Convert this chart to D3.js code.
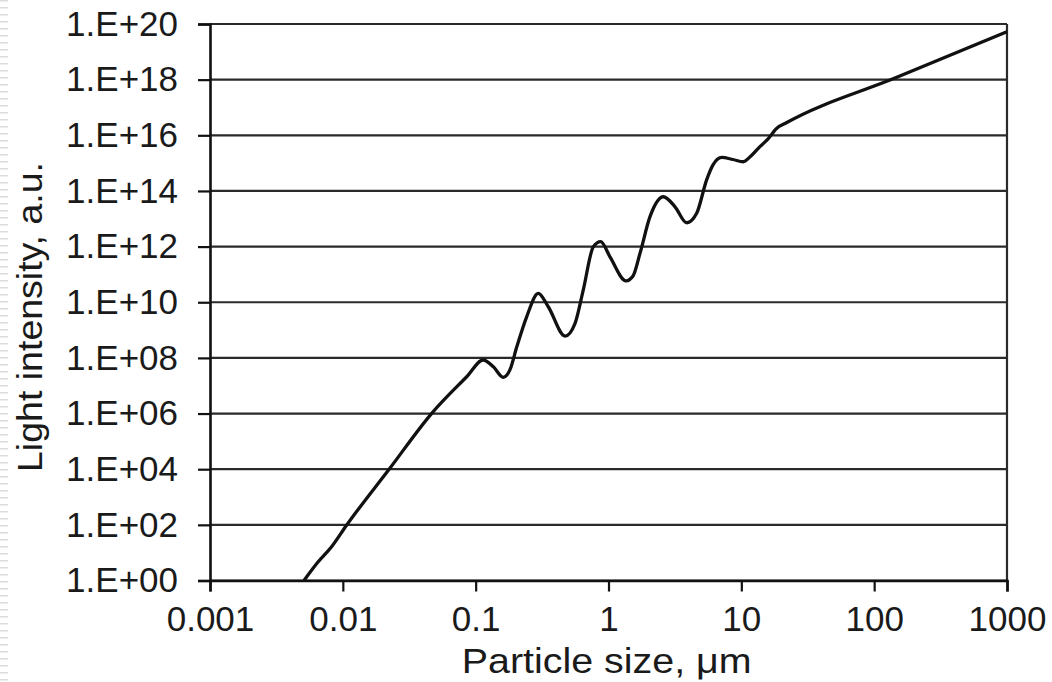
<!DOCTYPE html>
<html>
<head>
<meta charset="utf-8">
<script src="https://cdn.jsdelivr.net/npm/d3@7"></script>
<style>
	body { margin: 0; background: #fff; }
	text { font-family: "Liberation Sans", Arial, sans-serif; fill: #1a1a1a; }
</style>
</head>
<body>
<svg id="chart" width="1052" height="682"></svg>
<script>

//* particle size, um
var sizes = [
	0.0051, 0.0065, 0.0082, 0.0107, 0.0226, 0.0467, 0.0856, 0.114, 0.136, 0.161,
	0.181, 0.204, 0.242, 0.296, 0.352, 0.471, 0.56, 0.646, 0.769, 0.873,
	1.026, 1.355, 1.53, 1.726, 2.053, 2.586, 3.168, 3.88, 4.61, 5.48,
	6.12, 7.12, 8.65, 10.35, 11.6, 13.8, 15.9, 18.5, 21.3, 148, 1000
];

//* light intensity, a.u.
var intensity = [
	1, 4.6, 16, 99, 1.08e4, 1.02e6, 2.1e7, 8.4e7, 4.8e7, 2.0e7,
	3.7e7, 2.5e8, 3.0e9, 2.1e10, 6.9e9, 6.1e8, 1.75e9, 2.8e10, 9.9e11, 1.5e12,
	4.3e11, 5.9e10, 8.8e10, 5.7e11, 1.19e13, 6.2e13, 2.7e13, 7.2e12, 1.57e13, 2.5e14,
	8.6e14, 1.6e15, 1.35e15, 1.12e15, 1.66e15, 3.9e15, 7.4e15, 1.8e16, 2.65e16, 1.21e18, 5.3e19
];

var xTicks = [0.001, 0.01, 0.1, 1, 10, 100, 1000];
var xTickLabels = ["0.001", "0.01", "0.1", "1", "10", "100", "1000"];

var yTicks = [1e0, 1e2, 1e4, 1e6, 1e8, 1e10, 1e12, 1e14, 1e16, 1e18, 1e20];
var yTickLabels = ["1.E+00", "1.E+02", "1.E+04", "1.E+06", "1.E+08", "1.E+10",
	"1.E+12", "1.E+14", "1.E+16", "1.E+18", "1.E+20"];

var svg = d3.select('#chart');

var plotLeft = 210, plotRight = 1007, plotTop = 24, plotBottom = 580.5;

var x = d3.scaleLog().domain([0.001, 1000]).range([plotLeft, plotRight]);
var y = d3.scaleLog().domain([1, 1e20]).range([plotBottom, plotTop]);

// faint scan edge at the left border
svg.append('line')
	.attr('x1', 4).attr('x2', 4)
	.attr('y1', 0).attr('y2', 682)
	.attr('stroke', '#dcdcdc')
	.attr('stroke-width', 8)
	.attr('stroke-dasharray', '1.5,5.5');

//* grid lines
svg.append('g')
	.selectAll('line')
	.data(yTicks)
	.enter().append('line')
		.attr('x1', plotLeft)
		.attr('x2', plotRight)
		.attr('y1', function(d){ return y(d); })
		.attr('y2', function(d){ return y(d); })
		.attr('stroke', '#2a2a2a')
		.attr('stroke-width', 2.2);

//* right border
svg.append('line')
	.attr('x1', plotRight).attr('x2', plotRight)
	.attr('y1', plotTop).attr('y2', plotBottom)
	.attr('stroke', '#2a2a2a')
	.attr('stroke-width', 2.2);

//* y axis
var yAxis = svg.append('g')
	.attr('transform', 'translate(' + plotLeft + ',0)')
	.call(d3.axisLeft(y)
		.tickValues(yTicks)
		.tickSize(12)
		.tickPadding(20)
		.tickFormat(function(d, i){ return yTickLabels[i]; }));

//* x axis
var xAxis = svg.append('g')
	.attr('transform', 'translate(0,' + plotBottom + ')')
	.call(d3.axisBottom(x)
		.tickValues(xTicks)
		.tickSize(11)
		.tickPadding(15)
		.tickFormat(function(d, i){ return xTickLabels[i]; }));

[yAxis, xAxis].forEach(function(a){
	a.select('.domain').attr('stroke', '#111').attr('stroke-width', 2.6);
	a.selectAll('.tick line').attr('stroke', '#111').attr('stroke-width', 2.2);
	a.selectAll('.tick text')
		.attr('font-family', '"Liberation Sans", Arial, sans-serif')
		.attr('font-size', 35)
		.attr('fill', '#1a1a1a');
});

//* curve
var line = d3.line()
	.x(function(d){ return x(d[0]); })
	.y(function(d){ return y(d[1]); })
	.curve(d3.curveMonotoneX);

svg.append('path')
	.datum(d3.zip(sizes, intensity))
	.attr('d', line)
	.attr('fill', 'none')
	.attr('stroke', '#111')
	.attr('stroke-width', 3.3)
	.attr('stroke-linejoin', 'round');

//* axis titles
svg.append('text')
	.attr('x', 606.7)
	.attr('y', 673)
	.attr('font-size', 35)
	.attr('text-anchor', 'middle')
	.attr('textLength', 290)
	.attr('lengthAdjust', 'spacingAndGlyphs')
	.text('Particle size, \u03bcm');

svg.append('text')
	.attr('transform', 'translate(42,317) rotate(-90)')
	.attr('font-size', 35)
	.attr('text-anchor', 'middle')
	.attr('textLength', 310)
	.attr('lengthAdjust', 'spacingAndGlyphs')
	.text('Light intensity, a.u.');

</script>
</body>
</html>
